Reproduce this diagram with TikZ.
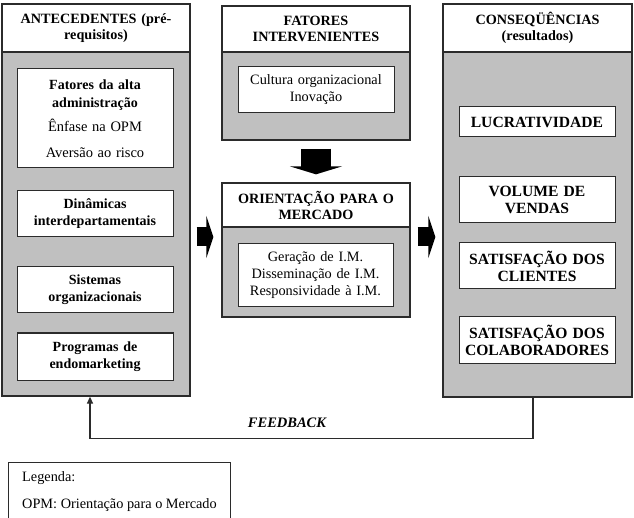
\documentclass[tikz,border=0pt]{standalone}
\usepackage{fontspec}
\setmainfont{Liberation Serif}
\usetikzlibrary{arrows.meta,positioning}
\definecolor{OpmGray}{HTML}{C0C0C0}
\definecolor{OpmLine}{HTML}{2B2B2B}

\begin{document}
\begin{tikzpicture}[x=1pt,y=-1pt,
    colhead/.style={
      draw=OpmLine, fill=white, line width=1.3pt, inner sep=0pt,
      minimum width=188pt, text width=184pt, align=center,
      font=\fontsize{14.2}{16}\selectfont\bfseries
    },
    colbody/.style={
      draw=OpmLine, fill=OpmGray, line width=1.3pt, inner sep=0pt,
      minimum width=188pt
    },
    itembox/.style={
      draw=OpmLine, fill=white, line width=1pt, inner sep=0pt,
      minimum width=156pt, text width=154pt, align=center,
      font=\fontsize{14}{17}\selectfont\bfseries
    },
    bigitem/.style={font=\fontsize{15.6}{17}\selectfont\bfseries},
    plaintext/.style={font=\fontsize{14.3}{17}\selectfont\mdseries},
    sidearrow/.style={-{Triangle[length=7pt,width=42pt]}, line width=19pt, draw=black},
    downarrow/.style={-{Triangle[length=8pt,width=52pt]}, line width=30pt, draw=black},
    fbarrow/.style={-{Triangle[length=7pt,width=6pt]}, line width=1.3pt, draw=OpmLine}]

    \useasboundingbox (0,0) rectangle (634,518);

    % Antecedentes column
    \node[colhead, minimum height=48pt] (anthead) at (96,28) {ANTECEDENTES (pré-\\requisitos)};
    \node[colbody, minimum height=344pt] (antbody) at (96,224) {};
    \node[itembox, minimum height=99pt] (altaadm) at (95,118.5) {
      Fatores da alta\\[1pt]administração\\[7pt]
      {\mdseries\fontsize{14.5}{17}\selectfont Ênfase na OPM}\\[9pt]
      {\mdseries\fontsize{14.5}{17}\selectfont Aversão ao risco}
    };
    \node[itembox, minimum height=46pt] (dinamicas) at (95,214) {Dinâmicas\\interdepartamentais};
    \node[itembox, minimum height=46pt] (sistemas) at (95,290) {Sistemas\\organizacionais};
    \node[itembox, minimum height=47pt] (programas) at (95,356.5) {Programas de\\endomarketing};

    % Fatores intervenientes and orientacao para o mercado
    \node[colhead, minimum height=46pt] (fathead) at (316,29) {FATORES\\INTERVENIENTES};
    \node[colbody, minimum height=88pt] (fatbody) at (316,96) {};
    \node[itembox, plaintext, minimum height=46pt] (cultura) at (316,90) {Cultura organizacional\\Inovação};

    \node[colhead, minimum height=44pt] (omhead) at (316,205) {ORIENTAÇÃO PARA O\\MERCADO};
    \node[colbody, minimum height=90pt] (ombody) at (316,272) {};
    \node[itembox, plaintext, minimum height=63pt, minimum width=155pt] (imfases) at (315.5,275.5) {
      Geração de I.M.\\Disseminação de I.M.\\Responsividade à I.M.
    };

    % Consequencias column
    \node[colhead, minimum width=189pt, minimum height=48pt] (conshead) at (537.5,28) {CONSEQÜÊNCIAS\\(resultados)};
    \node[colbody, minimum width=189pt, minimum height=345pt] (consbody) at (537.5,224.5) {};
    \node[itembox, bigitem, minimum height=30pt] (lucro) at (537,122) {LUCRATIVIDADE};
    \node[itembox, bigitem, minimum height=46pt] (vendas) at (537,200) {VOLUME DE\\VENDAS};
    \node[itembox, bigitem, minimum height=46pt] (clientes) at (537,266) {SATISFAÇÃO DOS\\CLIENTES};
    \node[itembox, bigitem, minimum height=46pt] (colab) at (537,340) {SATISFAÇÃO DOS\\COLABORADORES};

    % Block arrows
    \draw[downarrow, shorten <=8pt, shorten >=8pt] (fatbody.south) -- (omhead.north);
    \coordinate (omin) at ([yshift=35pt]ombody.west);
    \coordinate (omout) at ([yshift=35pt]ombody.east);
    \draw[sidearrow, shorten <=6pt, shorten >=8pt] (antbody.east |- omin) -- (omin);
    \draw[sidearrow, shorten <=7pt, shorten >=7pt] (omout) -- (consbody.west |- omout);

    % Feedback loop
    \draw[fbarrow] ([xshift=-4.5pt]consbody.south) -- ++(0,41) -| ([xshift=-6pt]antbody.south);
    \node[font=\fontsize{14.5}{16}\selectfont\bfseries\itshape] (fblabel) at (287,423) {FEEDBACK};

    % Legend
    \node[draw=OpmLine, line width=1pt, anchor=north west, inner ysep=0pt, inner xsep=11pt,
      minimum width=222pt, minimum height=58pt, align=left,
      font=\fontsize{14.3}{16}\selectfont] (legenda) at (8,462) {Legenda:\\[11pt]OPM: Orientação para o Mercado};
  \end{tikzpicture}
\end{document}
